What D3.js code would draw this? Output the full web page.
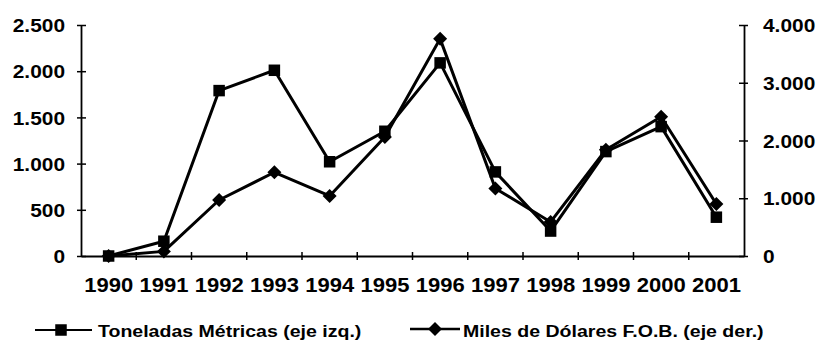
<!DOCTYPE html>
<html>
<head>
<meta charset="utf-8">
<script src="https://cdn.jsdelivr.net/npm/d3@7"></script>
<style>
  html, body { margin: 0; padding: 0; background: #fff; }
  svg { display: block; }
  text { font-family: "Liberation Sans", Arial, sans-serif; font-weight: bold; fill: #000; }
</style>
</head>
<body>
<svg id="chart" width="817" height="343"></svg>
<script>
// Exportaciones 1990-2001
const years = ["1990","1991","1992","1993","1994","1995","1996","1997","1998","1999","2000","2001"];
const toneladas = [0, 160, 1790, 2010, 1020, 1350, 2090, 910, 270, 1130, 1400, 420];
const milesUSD  = [0, 80, 970, 1450, 1040, 2060, 3760, 1170, 590, 1840, 2410, 900];
const leftTicks  = [0, 500, 1000, 1500, 2000, 2500];
const rightTicks = [0, 1000, 2000, 3000, 4000];
const legendLabels = ["Toneladas Métricas (eje izq.)", "Miles de Dólares F.O.B. (eje der.)"];

const S = 1.13; // horizontal stretch of the lettering

const svg = d3.select("#chart");
const plotLeft = 81, plotRight = 744, plotTop = 25, plotBottom = 256;

const x = d3.scaleBand().domain(years).range([plotLeft, plotRight]);
const yL = d3.scaleLinear().domain([0, 2500]).range([plotBottom, plotTop]);
const yR = d3.scaleLinear().domain([0, 4000]).range([plotBottom, plotTop]);

const fmt = d3.formatLocale({decimal: ",", thousands: ".", grouping: [3], currency: ["", ""]}).format(",d");

// left axis
const gL = svg.append("g").attr("transform", `translate(${plotLeft},0)`)
  .call(d3.axisLeft(yL).tickValues(leftTicks).tickFormat(fmt).tickSizeOuter(0));
gL.selectAll(".tick line").attr("x1", -4).attr("x2", 5).attr("stroke-width", 1.5);
gL.selectAll(".tick text").attr("x", -16 / S).attr("dy", "0.36em")
  .attr("transform", `scale(${S},1)`).style("font-size", "18.5px").attr("font-family", null);
gL.select(".domain").attr("stroke-width", 1.8);

// right axis
const gR = svg.append("g").attr("transform", `translate(${plotRight},0)`)
  .call(d3.axisRight(yR).tickValues(rightTicks).tickFormat(fmt).tickSizeOuter(0));
gR.selectAll(".tick line").attr("x1", -5).attr("x2", 4).attr("stroke-width", 1.5);
gR.selectAll(".tick text").attr("x", 19 / S).attr("dy", "0.36em")
  .attr("transform", `scale(${S},1)`).style("font-size", "18.5px").attr("font-family", null);
gR.select(".domain").attr("stroke-width", 1.8);

// category axis
const gX = svg.append("g").attr("transform", `translate(0,${plotBottom})`)
  .call(d3.axisBottom(x).tickSize(0).tickSizeOuter(0));
gX.select(".domain").attr("stroke-width", 1.8);
gX.selectAll(".tick text").attr("y", 36).attr("dy", null)
  .attr("transform", `scale(${S},1)`).style("font-size", "19.5px").attr("font-family", null);
// tick marks between categories
gX.selectAll(".sep").data(years.slice(1)).join("line").attr("class", "sep")
  .attr("x1", d => x(d)).attr("x2", d => x(d)).attr("y1", -4).attr("y2", 4)
  .attr("stroke", "#000").attr("stroke-width", 1.5);

const cx = d => x(d) + x.bandwidth() / 2;

// series lines
const lineL = d3.line().x((d, i) => cx(years[i])).y(d => yL(d));
const lineR = d3.line().x((d, i) => cx(years[i])).y(d => yR(d));

svg.append("path").datum(toneladas).attr("d", lineL)
  .attr("fill", "none").attr("stroke", "#000").attr("stroke-width", 3).attr("stroke-linejoin", "round");
svg.append("path").datum(milesUSD).attr("d", lineR)
  .attr("fill", "none").attr("stroke", "#000").attr("stroke-width", 3).attr("stroke-linejoin", "round");

const sq = 11.5, dm = 7;
svg.append("g").selectAll("rect").data(toneladas).join("rect")
  .attr("x", (d, i) => cx(years[i]) - sq / 2).attr("y", d => yL(d) - sq / 2)
  .attr("width", sq).attr("height", sq).attr("fill", "#000");

const diamond = (px, py, r) => `M${px},${py - r}L${px + r},${py}L${px},${py + r}L${px - r},${py}Z`;
svg.append("g").selectAll("path").data(milesUSD).join("path")
  .attr("d", (d, i) => diamond(cx(years[i]), yR(d), dm)).attr("fill", "#000");

// legend
const lg = svg.append("g");
lg.append("line").attr("x1", 35).attr("x2", 92).attr("y1", 330).attr("y2", 330)
  .attr("stroke", "#000").attr("stroke-width", 2);
lg.append("rect").attr("x", 61 - sq / 2).attr("y", 330 - sq / 2).attr("width", sq).attr("height", sq).attr("fill", "#000");
lg.append("text").attr("transform", `translate(98,337) scale(${S},1)`)
  .style("font-size", "17.3px").text(legendLabels[0]);

lg.append("line").attr("x1", 410).attr("x2", 460).attr("y1", 329).attr("y2", 329)
  .attr("stroke", "#000").attr("stroke-width", 2.5);
lg.append("path").attr("d", diamond(435, 329, dm)).attr("fill", "#000");
lg.append("text").attr("transform", `translate(463,337) scale(${S},1)`)
  .style("font-size", "17.3px").text(legendLabels[1]);
</script>
</body>
</html>
